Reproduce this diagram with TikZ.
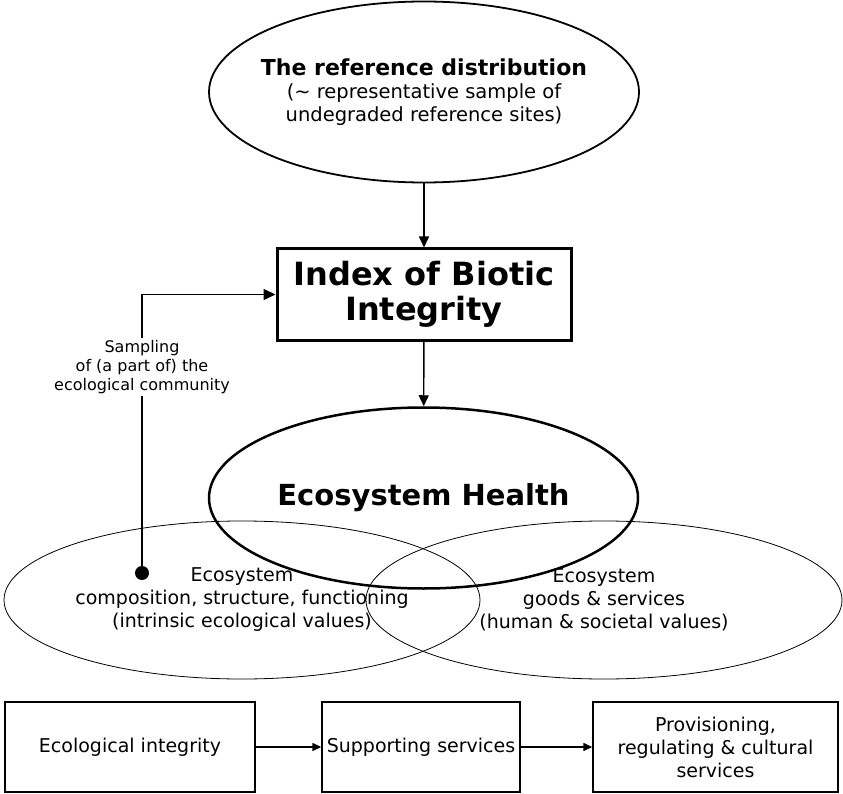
\documentclass[tikz,border=0pt]{standalone}
\usepackage{fontspec}
\setmainfont{DejaVu Sans}
\usetikzlibrary{shapes.geometric,arrows.meta}
\begin{document}
\begin{tikzpicture}[x=1pt,y=-1pt,
  oval/.style={draw,ellipse,inner sep=0pt,align=center},
  plainbox/.style={draw,line width=1.4pt,inner sep=0pt,align=center,
    minimum height=90pt,font=\fontsize{19}{23}\selectfont},
  link/.style={line width=1.4pt,-{Triangle[length=11pt,width=10pt]}},
  smalllink/.style={line width=1.4pt,-{Triangle[length=9pt,width=8pt]}}]
\useasboundingbox (0,0) rectangle (843,794);

% reference distribution: outline and its text
\node[oval,line width=1.8pt,minimum width=430pt,minimum height=181pt]
  (ref) at (424,92) {};
\node[align=center,inner sep=0pt,font=\fontsize{19.5}{23}\selectfont]
  (reftext) at (ref.center)
  {{\bfseries\fontsize{22}{25}\selectfont The reference distribution}\\
   (\char"223C{} representative sample of\\ undegraded reference sites)};

% index box
\node[draw,line width=3pt,minimum width=294pt,minimum height=91pt,
  inner sep=0pt,align=center,font=\bfseries\fontsize{32}{35}\selectfont]
  (ibi) at (424,294.5) {Index of Biotic\\Integrity};

% side ellipses
\node[oval,line width=0.8pt,minimum width=476pt,minimum height=158pt,
  font=\fontsize{19}{23}\selectfont] (comp) at (242,600)
  {Ecosystem\\composition, structure, functioning\\(intrinsic ecological values)};
\node[oval,line width=0.8pt,minimum width=476pt,minimum height=158pt,
  font=\fontsize{19}{23}\selectfont] (goods) at (604,600)
  {Ecosystem\\goods \& services\\(human \& societal values)};

% ecosystem health
\node[oval,line width=2.5pt,minimum width=429pt,minimum height=181pt,
  font=\bfseries\fontsize{29}{35}\selectfont] (health) at (423.5,498)
  {Ecosystem Health};

% vertical links
\draw[link] (ref) -- (ibi);
\draw[link] (ibi) -- (health);

% sampling link
\coordinate (dot) at (142,573);
\fill (dot) circle (7pt);
\draw[line width=1.4pt,-{Triangle[length=12pt,width=11pt]}] (dot) |- (ibi.west);
\node[fill=white,inner sep=2pt,align=center,font=\fontsize{16}{19}\selectfont]
  (samp) at (142,367) {Sampling\\of (a part of) the\\ecological community};

% bottom chain
\node[plainbox,minimum width=250pt] (integ) at (130,747) {Ecological integrity};
\node[plainbox,minimum width=198pt] (supp) at (421,747) {Supporting services};
\node[plainbox,minimum width=245pt] (prov) at (715.5,747)
  {Provisioning,\\regulating \& cultural\\services};
\draw[smalllink] (integ) -- (supp);
\draw[smalllink] (supp) -- (prov);
\end{tikzpicture}
\end{document}
